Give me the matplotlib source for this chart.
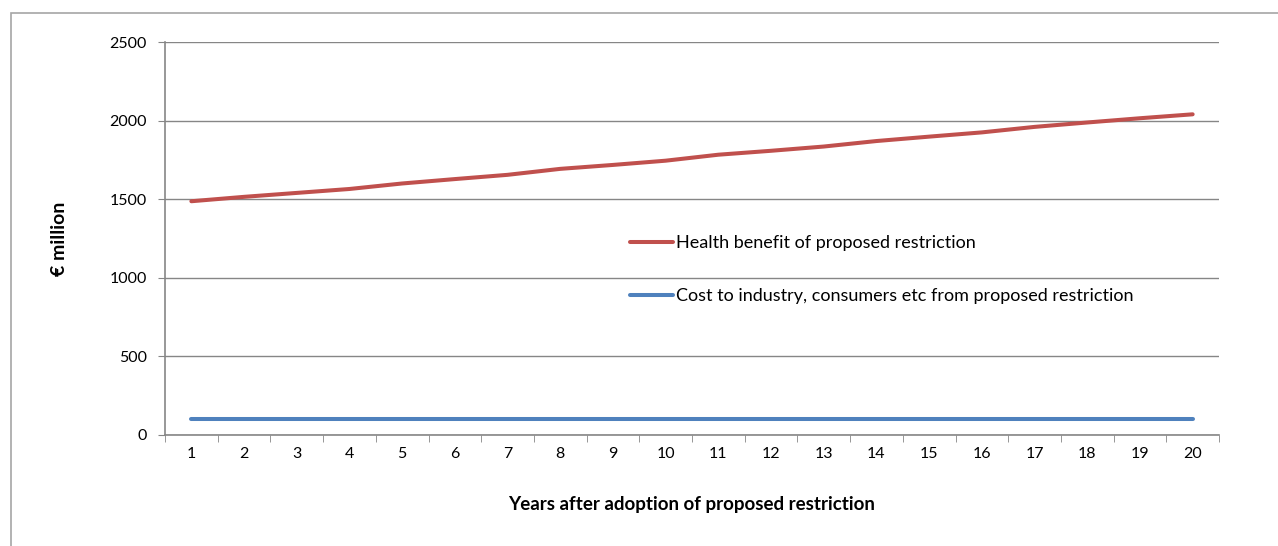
import matplotlib
matplotlib.use('Agg')
from matplotlib import pyplot as plt
from matplotlib.patches import Rectangle

# Data
years = list(range(1, 21))
health_benefit = [1487, 1515, 1540, 1565, 1600, 1628, 1655, 1693, 1718, 1745,
                  1783, 1808, 1835, 1870, 1898, 1925, 1960, 1988, 2015, 2040]
cost = [100] * 20
y_ticks = [0, 500, 1000, 1500, 2000, 2500]

plt.rcParams['font.family'] = ['Lato', 'DejaVu Sans']

W, H = 1278, 546
fig = plt.figure(figsize=(W / 100, H / 100), dpi=100)
ax = fig.add_axes([165 / W, 1 - 435 / H, (1219 - 165) / W, (435 - 42) / H])

# Outer chart frame (Excel style)
fig.patches.append(Rectangle((11 / W, -0.1), 1.2, 1 - 13 / H + 0.1,
                             transform=fig.transFigure, fill=False,
                             edgecolor='#a6a6a6', linewidth=1.2))

grey = '#868686'
ax.plot(years, health_benefit, c='#C0504D', lw=2.9, solid_capstyle='round',
        label='Health benefit of proposed restriction', zorder=3)
ax.plot(years, cost, c='#4F81BD', lw=2.9, solid_capstyle='round',
        label='Cost to industry, consumers etc from proposed restriction', zorder=3)

ax.set_xlim(0.5, 20.5)
ax.set_ylim(0, 2500)
ax.set_yticks(y_ticks)
ax.set_xticks(years)
ax.set_xticks([y + 0.5 for y in range(0, 21)], minor=True)
ax.tick_params(axis='x', which='major', length=0, pad=9, labelsize=11.5)
ax.tick_params(axis='x', which='minor', length=5, color=grey, direction='out')
ax.tick_params(axis='y', which='major', length=5, color=grey, labelsize=11.5, pad=8)

ax.grid(axis='y', color=grey, linewidth=1)
for side in ['top', 'right']:
    ax.spines[side].set_visible(False)
for side in ['left', 'bottom']:
    ax.spines[side].set_color(grey)
    ax.spines[side].set_linewidth(1.2)

ax.set_ylabel('€ million', fontsize=14, fontweight='bold')
ax.yaxis.set_label_coords((68 - 165) / (1219 - 165), 0.5)
ax.set_xlabel('Years after adoption of proposed restriction', fontsize=13.5, fontweight='bold')
ax.xaxis.set_label_coords(0.5, -(496 - 435) / (435 - 42))

leg = ax.legend(loc='upper left', bbox_to_anchor=((630 - 165) / (1219 - 165), 1 - (235 - 42) / (435 - 42)),
                frameon=False, fontsize=13, handlelength=2.4, handletextpad=0.15,
                labelspacing=2.05, borderaxespad=0, borderpad=0)

fig.savefig('out.png', dpi=100)
